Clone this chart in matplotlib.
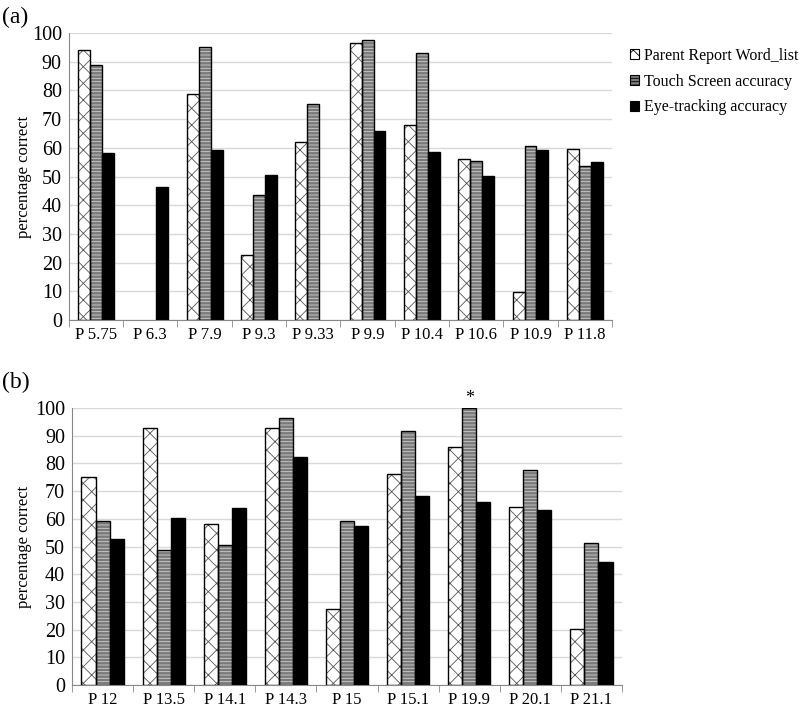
import matplotlib
matplotlib.use("Agg")
import matplotlib.pyplot as plt
import numpy as np
from matplotlib.patches import Patch

plt.rcParams["font.family"] = ["Liberation Serif", "DejaVu Serif"]
plt.rcParams["hatch.linewidth"] = 0.6

series = ["Parent Report Word_list", "Touch Screen accuracy", "Eye-tracking accuracy"]

# panel (a)
cats_a = ["P 5.75", "P 6.3", "P 7.9", "P 9.3", "P 9.33", "P 9.9", "P 10.4", "P 10.6", "P 10.9", "P 11.8"]
parent_a = [94.0, 0, 78.6, 22.6, 62.0, 96.4, 68.0, 56.0, 9.6, 59.6]
touch_a = [88.7, 0, 95.2, 43.4, 75.4, 97.6, 93.0, 55.3, 60.7, 53.5]
eye_a = [58.2, 46.5, 59.3, 50.5, 0, 65.8, 58.4, 50.3, 59.2, 55.2]

# panel (b)
cats_b = ["P 12", "P 13.5", "P 14.1", "P 14.3", "P 15", "P 15.1", "P 19.9", "P 20.1", "P 21.1"]
parent_b = [75.0, 92.8, 58.3, 92.8, 27.3, 76.1, 85.8, 64.3, 20.1]
touch_b = [59.3, 48.6, 50.7, 96.3, 59.1, 91.7, 100.0, 77.5, 51.2]
eye_b = [52.6, 60.4, 64.0, 82.5, 57.4, 68.3, 66.2, 63.2, 44.5]

styles = [
    dict(face="white", hatch="xx", hcol="#555555"),
    dict(face="#7a7a7a", hatch="-----", hcol="#cfcfcf"),
    dict(face="black", hatch=None, hcol="black"),
]


def panel(ax, cats, vals, width, ylab_x):
    x = np.arange(len(cats))
    for i, (v, st) in enumerate(zip(vals, styles)):
        pos = x + (i - 1) * width
        v = np.array(v)
        keep = v > 0
        ax.bar(pos[keep], v[keep], width, color=st["face"], hatch=st["hatch"],
               edgecolor=st["hcol"], linewidth=0, zorder=2)
        ax.bar(pos[keep], v[keep], width, fill=False, edgecolor="black",
               linewidth=1.0, zorder=3)
    ax.set_xlim(-0.5, len(cats) - 0.5)
    ax.set_ylim(0, 100)
    ax.set_yticks(range(0, 101, 10))
    ax.set_xticks(x)
    ax.set_xticklabels(cats, fontsize=12)
    ax.set_xticks(np.arange(len(cats) + 1) - 0.5, minor=True)
    ax.tick_params(axis="x", which="major", length=0, pad=5)
    ax.tick_params(axis="x", which="minor", length=5, color="#888888")
    ax.tick_params(axis="y", length=0, labelsize=14.5, pad=5)
    ax.grid(axis="y", color="#d9d9d9", linewidth=1.0, zorder=0)
    ax.set_axisbelow(True)
    for s in ["top", "right"]:
        ax.spines[s].set_visible(False)
    for s in ["left", "bottom"]:
        ax.spines[s].set_color("#888888")
    ax.set_ylabel("percentage correct", fontsize=12)
    ax.yaxis.set_label_coords(ylab_x, 0.5)


fig = plt.figure(figsize=(8, 7.12), dpi=100)
ax1 = fig.add_axes([0.086, 0.5506, 0.679, 0.403])
ax2 = fig.add_axes([0.09, 0.0379, 0.6875, 0.389])

panel(ax1, cats_a, [parent_a, touch_a, eye_a], 0.22, -0.068)
panel(ax2, cats_b, [parent_b, touch_b, eye_b], 0.23, -0.073)

ax2.text(6, touch_b[6] + 0.5, "*", ha="center", va="bottom", fontsize=13)

fig.text(0.002, 0.975, "(a)", fontsize=17, va="center")
fig.text(0.002, 0.463, "(b)", fontsize=17, va="center")

handles = [Patch(facecolor=st["face"], hatch=st["hatch"], edgecolor="black", linewidth=0.8)
           for st in styles]
fig.legend(handles, series, loc="upper left", bbox_to_anchor=(0.779, 0.942),
           frameon=False, fontsize=11.5, handlelength=0.6, handleheight=0.6,
           handletextpad=0.3, labelspacing=0.62, borderaxespad=0)

fig.savefig("out.png", dpi=100)
